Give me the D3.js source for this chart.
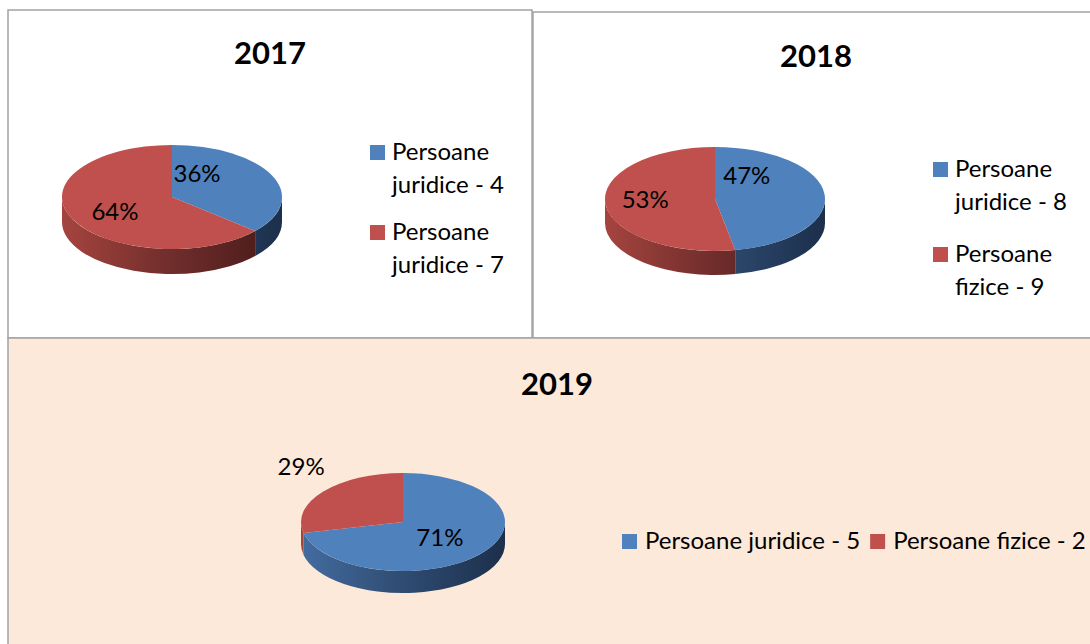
<!DOCTYPE html>
<html>
<head>
<meta charset="utf-8">
<script src="https://cdn.jsdelivr.net/npm/d3@7"></script>
<style>
  html, body { margin: 0; padding: 0; background: #fff; }
  svg { display: block; font-family: Lato, 'Open Sans', sans-serif; }
</style>
</head>
<body>
<div id="vis"></div>
<script>
// data
const years = ['2017', '2018', '2019'];
const labels2017 = ['Persoane juridice - 4', 'Persoane juridice - 7'];
const values2017 = [4, 7];
const labels2018 = ['Persoane juridice - 8', 'Persoane fizice - 9'];
const values2018 = [8, 9];
const labels2019 = ['Persoane juridice - 5', 'Persoane fizice - 2'];
const values2019 = [5, 2];

const colors = ['#4f81bd', '#c0504d'];
const sideLight = ['#436c9f', '#a5443f'];
const sideMid = ['#2f4c72', '#6f2d2b'];
const sideDark = ['#1c2f4b', '#471a19'];

const width = 1090;
const height = 644;

// panel layout: frame, title, pie geometry, legend, label nudges
const panels = [
  {
    year: years[0], labels: labels2017, values: values2017,
    frame: { x: 8, y: 10, w: 524, h: 328, fill: '#ffffff' },
    title: { x: 270, y: 64 },
    pie: { cx: 172, cy: 197, rx: 110, ry: 52, depth: 25 },
    legend: { x: 370, y: 145, step: 80, vertical: true },
    nudge: [[-25, -13], [-7, 4]]
  },
  {
    year: years[1], labels: labels2018, values: values2018,
    frame: { x: 533, y: 12, w: 567, h: 326, fill: '#ffffff' },
    title: { x: 816, y: 67 },
    pie: { cx: 715, cy: 199, rx: 110, ry: 52, depth: 24 },
    legend: { x: 933, y: 162, step: 85, vertical: true },
    nudge: [[-23, -21], [-15, -2]]
  },
  {
    year: years[2], labels: labels2019, values: values2019,
    frame: { x: 8, y: 338, w: 1098, h: 310, fill: '#fde9d9' },
    title: { x: 557, y: 395 },
    pie: { cx: 403, cy: 522, rx: 102, ry: 49, depth: 22 },
    legend: { x: 622, y: 534, vertical: false, gap: 10 },
    nudge: [[-3, 0], [-62, -40]]
  }
];

const svg = d3.select('#vis')
  .append('svg')
  .attr('width', width)
  .attr('height', height)
  .attr('viewBox', [0, 0, width, height]);

const defs = svg.append('defs');
const pct = d3.format('.0%');

const pie = d3.pie().sort(null).startAngle(0).endAngle(2 * Math.PI);

panels.forEach((p, pi) => {
  const g = svg.append('g');
  const { cx, cy, rx, ry, depth } = p.pie;

  // panel frame
  g.append('rect')
    .attr('x', p.frame.x)
    .attr('y', p.frame.y)
    .attr('width', p.frame.w)
    .attr('height', p.frame.h)
    .attr('fill', p.frame.fill)
    .attr('stroke', '#a3a3a3')
    .attr('stroke-width', 1.5);

  g.append('text')
    .attr('x', p.title.x)
    .attr('y', p.title.y)
    .attr('text-anchor', 'middle')
    .attr('font-weight', 'bold')
    .attr('font-size', 31)
    .attr('fill', '#000')
    .text(p.year);

  // side gradients run across the whole pie width
  colors.forEach((c, ci) => {
    const grad = defs.append('linearGradient')
      .attr('id', `side_${pi}_${ci}`)
      .attr('gradientUnits', 'userSpaceOnUse')
      .attr('x1', cx - rx).attr('x2', cx + rx)
      .attr('y1', 0).attr('y2', 0);
    grad.append('stop').attr('offset', 0).attr('stop-color', sideLight[ci]);
    grad.append('stop').attr('offset', 0.5).attr('stop-color', sideMid[ci]);
    grad.append('stop').attr('offset', 1).attr('stop-color', sideDark[ci]);
  });

  const total = d3.sum(p.values);
  const arcs = pie(p.values);

  const ex = (a) => cx + rx * Math.sin(a);
  const ey = (a) => cy - ry * Math.cos(a);

  // outer walls, only the front half is visible
  arcs.forEach((d, i) => {
    const s = Math.max(d.startAngle, Math.PI / 2);
    const e = Math.min(d.endAngle, 3 * Math.PI / 2);
    if (e <= s) {
      return;
    }
    const path = d3.path();
    path.moveTo(ex(s), ey(s));
    // d3.path has no ellipse arc, so write the svg string directly
    const dStr = `M${ex(s)},${ey(s)}`
      + `A${rx},${ry} 0 0 1 ${ex(e)},${ey(e)}`
      + `L${ex(e)},${ey(e) + depth}`
      + `A${rx},${ry} 0 0 0 ${ex(s)},${ey(s) + depth}Z`;
    g.append('path')
      .attr('d', dStr)
      .attr('fill', `url(#side_${pi}_${i})`);
  });

  // top faces
  arcs.forEach((d, i) => {
    const large = d.endAngle - d.startAngle > Math.PI ? 1 : 0;
    const dStr = `M${cx},${cy}L${ex(d.startAngle)},${ey(d.startAngle)}`
      + `A${rx},${ry} 0 ${large} 1 ${ex(d.endAngle)},${ey(d.endAngle)}Z`;
    g.append('path')
      .attr('d', dStr)
      .attr('fill', colors[i]);
  });

  // percentage labels
  arcs.forEach((d, i) => {
    const mid = (d.startAngle + d.endAngle) / 2;
    const lx = cx + 0.5 * rx * Math.sin(mid) + p.nudge[i][0];
    const ly = cy - 0.5 * ry * Math.cos(mid) + p.nudge[i][1];
    g.append('text')
      .attr('x', lx)
      .attr('y', ly)
      .attr('dy', '0.36em')
      .attr('text-anchor', 'middle')
      .attr('font-size', 24)
      .attr('fill', '#000')
      .text(pct(d.value / total));
  });

  // legend
  const lg = p.legend;
  if (lg.vertical) {
    p.labels.forEach((label, i) => {
      const y0 = lg.y + i * lg.step;
      const cut = label.indexOf(' ');
      g.append('rect')
        .attr('x', lg.x).attr('y', y0)
        .attr('width', 15).attr('height', 15)
        .attr('fill', colors[i]);
      g.append('text')
        .attr('x', lg.x + 22)
        .attr('y', y0 + 15)
        .attr('font-size', 24)
        .attr('fill', '#000')
        .call((t) => t.selectAll('tspan')
          .data([label.slice(0, cut), label.slice(cut + 1)])
          .join('tspan')
          .attr('x', lg.x + 22)
          .attr('dy', (n, k) => k ? 33 : 0)
          .text((n) => n));
    });
  } else {
    let x0 = lg.x;
    p.labels.forEach((label, i) => {
      g.append('rect')
        .attr('x', x0).attr('y', lg.y)
        .attr('width', 15).attr('height', 15)
        .attr('fill', colors[i]);
      const t = g.append('text')
        .attr('x', x0 + 23)
        .attr('y', lg.y + 15)
        .attr('font-size', 24)
        .attr('fill', '#000')
        .text(label);
      x0 += 23 + t.node().getComputedTextLength() + lg.gap;
    });
  }
});
</script>
</body>
</html>
